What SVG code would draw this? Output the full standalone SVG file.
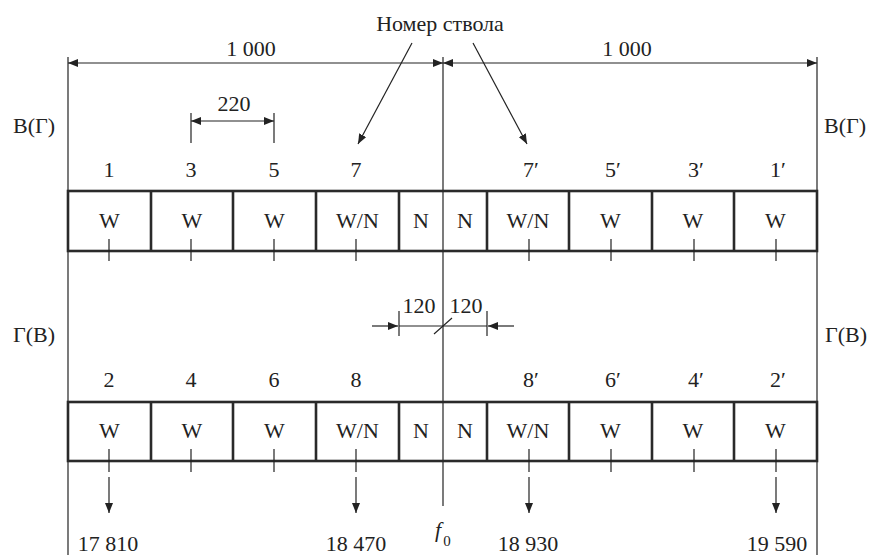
<svg xmlns="http://www.w3.org/2000/svg" width="871" height="555" viewBox="0 0 871 555">
<style>
  .ln { stroke: #222; stroke-width: 1.2; fill: none; }
  .box { stroke: #2a2a2a; stroke-width: 2.6; fill: none; }
  .arr { marker-end: url(#ah); }
  .arr2 { marker-start: url(#ah); marker-end: url(#ah); }
</style>
<defs>
  <marker id="ah" viewBox="0 0 10 8" refX="10" refY="4" markerWidth="10" markerHeight="8" markerUnits="userSpaceOnUse" orient="auto-start-reverse">
    <path d="M0,0 L10,4 L0,8 z" fill="#222"/>
  </marker>
</defs>
<rect width="871" height="555" fill="#fff"/>

<g id="frame">
  <line class="ln" x1="68" y1="57" x2="68" y2="555"/>
  <line class="ln" x1="817" y1="57" x2="817" y2="555"/>
  <line class="ln" x1="443" y1="57" x2="443" y2="506"/>
</g>

<g id="labels" fill="#222" text-anchor="middle">
  <text style="font-family:'Liberation Serif',serif;font-size:22px" x="440" y="31">Номер ствола</text>
  <text style="font-family:'Liberation Serif',serif;font-size:22px" x="251" y="56">1 000</text>
  <text style="font-family:'Liberation Serif',serif;font-size:22px" x="627" y="56">1 000</text>
  <text style="font-family:'Liberation Serif',serif;font-size:22px" x="34" y="133">B(Γ)</text>
  <text style="font-family:'Liberation Serif',serif;font-size:22px" x="845" y="133">B(Γ)</text>
  <text style="font-family:'Liberation Serif',serif;font-size:22px" x="34" y="342">Γ(B)</text>
  <text style="font-family:'Liberation Serif',serif;font-size:22px" x="846" y="342">Γ(B)</text>
  <text style="font-family:'Liberation Serif',serif;font-size:22px" x="234" y="111">220</text>
  <text style="font-family:'Liberation Serif',serif;font-size:22px" x="419" y="313">120</text>
  <text style="font-family:'Liberation Serif',serif;font-size:22px" x="466" y="313">120</text>
  <text style="font-family:'Liberation Serif',serif;font-size:22px" x="108" y="551">17 810</text>
  <text style="font-family:'Liberation Serif',serif;font-size:22px" x="356" y="551">18 470</text>
  <text style="font-family:'Liberation Serif',serif;font-size:22px" x="528" y="551">18 930</text>
  <text style="font-family:'Liberation Serif',serif;font-size:22px" x="777" y="551">19 590</text>
  <text style="font-family:'Liberation Serif',serif;font-size:22px;font-style:italic" x="438" y="537">f</text>
  <text style="font-family:'Liberation Serif',serif;font-size:15px" x="447" y="546">0</text>
</g>

<g id="channel-numbers" fill="#222" text-anchor="middle">
  <text style="font-family:'Liberation Serif',serif;font-size:22px" x="109" y="177">1</text>
  <text style="font-family:'Liberation Serif',serif;font-size:22px" x="191" y="177">3</text>
  <text style="font-family:'Liberation Serif',serif;font-size:22px" x="274" y="177">5</text>
  <text style="font-family:'Liberation Serif',serif;font-size:22px" x="356" y="177">7</text>
  <text style="font-family:'Liberation Serif',serif;font-size:22px" x="531" y="177">7′</text>
  <text style="font-family:'Liberation Serif',serif;font-size:22px" x="613" y="177">5′</text>
  <text style="font-family:'Liberation Serif',serif;font-size:22px" x="696" y="177">3′</text>
  <text style="font-family:'Liberation Serif',serif;font-size:22px" x="778" y="177">1′</text>
  <text style="font-family:'Liberation Serif',serif;font-size:22px" x="109" y="387">2</text>
  <text style="font-family:'Liberation Serif',serif;font-size:22px" x="191" y="387">4</text>
  <text style="font-family:'Liberation Serif',serif;font-size:22px" x="274" y="387">6</text>
  <text style="font-family:'Liberation Serif',serif;font-size:22px" x="356" y="387">8</text>
  <text style="font-family:'Liberation Serif',serif;font-size:22px" x="531" y="387">8′</text>
  <text style="font-family:'Liberation Serif',serif;font-size:22px" x="613" y="387">6′</text>
  <text style="font-family:'Liberation Serif',serif;font-size:22px" x="696" y="387">4′</text>
  <text style="font-family:'Liberation Serif',serif;font-size:22px" x="778" y="387">2′</text>
</g>

<g id="row-top" fill="#222" text-anchor="middle">
  <rect class="box" x="68" y="191" width="749" height="60"/>
  <path class="box" d="M151,191V251M233,191V251M316,191V251M399,191V251M487,191V251M569,191V251M652,191V251M734,191V251"/>
  <path class="ln" d="M109,239V261M191,239V261M274,239V261M356,239V261M529,239V261M611,239V261M694,239V261M776,239V261"/>
  <text style="font-family:'Liberation Serif',serif;font-size:22px" x="109.5" y="228">W</text>
  <text style="font-family:'Liberation Serif',serif;font-size:22px" x="192" y="228">W</text>
  <text style="font-family:'Liberation Serif',serif;font-size:22px" x="274.5" y="228">W</text>
  <text style="font-family:'Liberation Serif',serif;font-size:22px" x="357.5" y="228">W/N</text>
  <text style="font-family:'Liberation Serif',serif;font-size:22px" x="421" y="228">N</text>
  <text style="font-family:'Liberation Serif',serif;font-size:22px" x="465" y="228">N</text>
  <text style="font-family:'Liberation Serif',serif;font-size:22px" x="528" y="228">W/N</text>
  <text style="font-family:'Liberation Serif',serif;font-size:22px" x="610.5" y="228">W</text>
  <text style="font-family:'Liberation Serif',serif;font-size:22px" x="693" y="228">W</text>
  <text style="font-family:'Liberation Serif',serif;font-size:22px" x="775.5" y="228">W</text>
</g>

<g id="row-bottom" fill="#222" text-anchor="middle">
  <rect class="box" x="68" y="402" width="749" height="59"/>
  <path class="box" d="M151,402V461M233,402V461M316,402V461M399,402V461M487,402V461M569,402V461M652,402V461M734,402V461"/>
  <path class="ln" d="M109,449V472M191,449V472M274,449V472M356,449V472M529,449V472M611,449V472M694,449V472M776,449V472"/>
  <text style="font-family:'Liberation Serif',serif;font-size:22px" x="109.5" y="438">W</text>
  <text style="font-family:'Liberation Serif',serif;font-size:22px" x="192" y="438">W</text>
  <text style="font-family:'Liberation Serif',serif;font-size:22px" x="274.5" y="438">W</text>
  <text style="font-family:'Liberation Serif',serif;font-size:22px" x="357.5" y="438">W/N</text>
  <text style="font-family:'Liberation Serif',serif;font-size:22px" x="421" y="438">N</text>
  <text style="font-family:'Liberation Serif',serif;font-size:22px" x="465" y="438">N</text>
  <text style="font-family:'Liberation Serif',serif;font-size:22px" x="528" y="438">W/N</text>
  <text style="font-family:'Liberation Serif',serif;font-size:22px" x="610.5" y="438">W</text>
  <text style="font-family:'Liberation Serif',serif;font-size:22px" x="693" y="438">W</text>
  <text style="font-family:'Liberation Serif',serif;font-size:22px" x="775.5" y="438">W</text>
</g>

<g id="connectors">
  <line class="ln arr2" x1="68" y1="63" x2="443" y2="63"/>
  <line class="ln arr2" x1="443" y1="63" x2="817" y2="63"/>
  <line class="ln" x1="191" y1="113" x2="191" y2="143"/>
  <line class="ln" x1="274" y1="113" x2="274" y2="143"/>
  <line class="ln arr2" x1="191" y1="121" x2="274" y2="121"/>
  <line class="ln arr" x1="412" y1="43" x2="358" y2="144"/>
  <line class="ln arr" x1="473" y1="43" x2="527" y2="144"/>
  <line class="ln" x1="399" y1="311" x2="399" y2="336"/>
  <line class="ln" x1="487" y1="311" x2="487" y2="336"/>
  <line class="ln" x1="399" y1="326" x2="487" y2="326"/>
  <line class="ln" x1="434" y1="334" x2="452" y2="318"/>
  <line class="ln arr" x1="372" y1="326" x2="398" y2="326"/>
  <line class="ln arr" x1="514" y1="326" x2="488" y2="326"/>
  <line class="ln arr" x1="109" y1="477" x2="109" y2="513"/>
  <line class="ln arr" x1="356" y1="477" x2="356" y2="513"/>
  <line class="ln arr" x1="529" y1="477" x2="529" y2="513"/>
  <line class="ln arr" x1="776" y1="477" x2="776" y2="513"/>
</g>
</svg>
